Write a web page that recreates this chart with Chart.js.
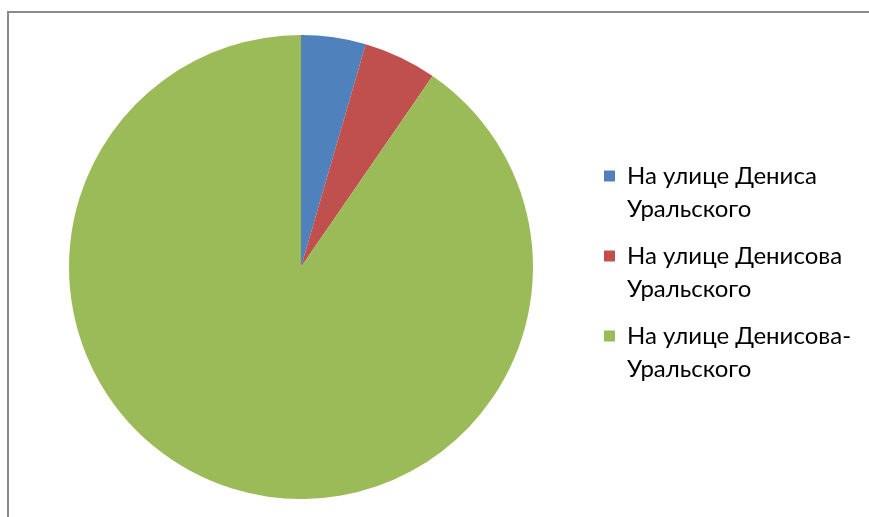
<!DOCTYPE html>
<html><head><meta charset="utf-8">
<script src="https://cdn.jsdelivr.net/npm/chart.js@4/dist/chart.umd.min.js"></script>
<style>
html,body{margin:0;padding:0;background:#fff;overflow:hidden;}
#wrap{position:relative;width:869px;height:517px;overflow:hidden;}
#frame{position:absolute;left:7px;top:11px;width:900px;height:600px;border-left:2px solid #8a8a8a;border-top:2px solid #8a8a8a;}
#c{position:absolute;left:0;top:0;}
</style></head><body>
<div id="wrap"><div id="frame"></div><canvas id="c" width="869" height="517"></canvas></div>
<script>
const categories = ['На улице Дениса Уральского', 'На улице Денисова Уральского', 'На улице Денисова-Уральского'];
const values = [4.5, 5.1, 90.4];
const colors = ['#4F81BD', '#C0504D', '#9BBB59'];

function wrapLabel(s) {
  const h = s.indexOf('-');
  if (h >= 0) return [s.slice(0, h + 1), s.slice(h + 1)];
  const i = s.lastIndexOf(' ');
  return [s.slice(0, i), s.slice(i + 1)];
}

const LEGEND_WIDTH = 279;
const legendWidthPlugin = {
  id: 'legendWidth',
  beforeUpdate(chart) {
    const lg = chart.legend;
    if (lg && !lg._fixedWidth) {
      const f = lg.fit;
      lg.fit = function () { f.call(this); this.width = LEGEND_WIDTH; };
      lg._fixedWidth = true;
    }
  }
};

new Chart(document.getElementById('c'), {
  type: 'pie',
  data: {
    labels: categories,
    datasets: [{ data: values, backgroundColor: colors, borderWidth: 0 }]
  },
  plugins: [legendWidthPlugin],
  options: {
    responsive: false,
    animation: false,
    layout: { padding: { left: 12, top: 35, bottom: 18, right: 0 } },
    plugins: {
      tooltip: { enabled: false },
      legend: {
        position: 'right',
        align: 'center',
        title: { display: true, text: '', padding: 0, font: { size: 10, lineHeight: '20px' } },
        labels: {
          boxWidth: 11,
          boxHeight: 11,
          padding: 14,
          color: '#000',
          font: { family: 'Lato, Carlito, Calibri, "Open Sans", sans-serif', size: 24, lineHeight: '33px' },
          generateLabels(chart) {
            const ds = chart.data.datasets[0];
            return chart.data.labels.map((l, i) => ({
              text: wrapLabel(l),
              fillStyle: ds.backgroundColor[i],
              strokeStyle: ds.backgroundColor[i],
              lineWidth: 0,
              fontColor: '#000',
              index: i,
              hidden: false
            }));
          }
        }
      }
    }
  }
});
</script>
</body></html>
